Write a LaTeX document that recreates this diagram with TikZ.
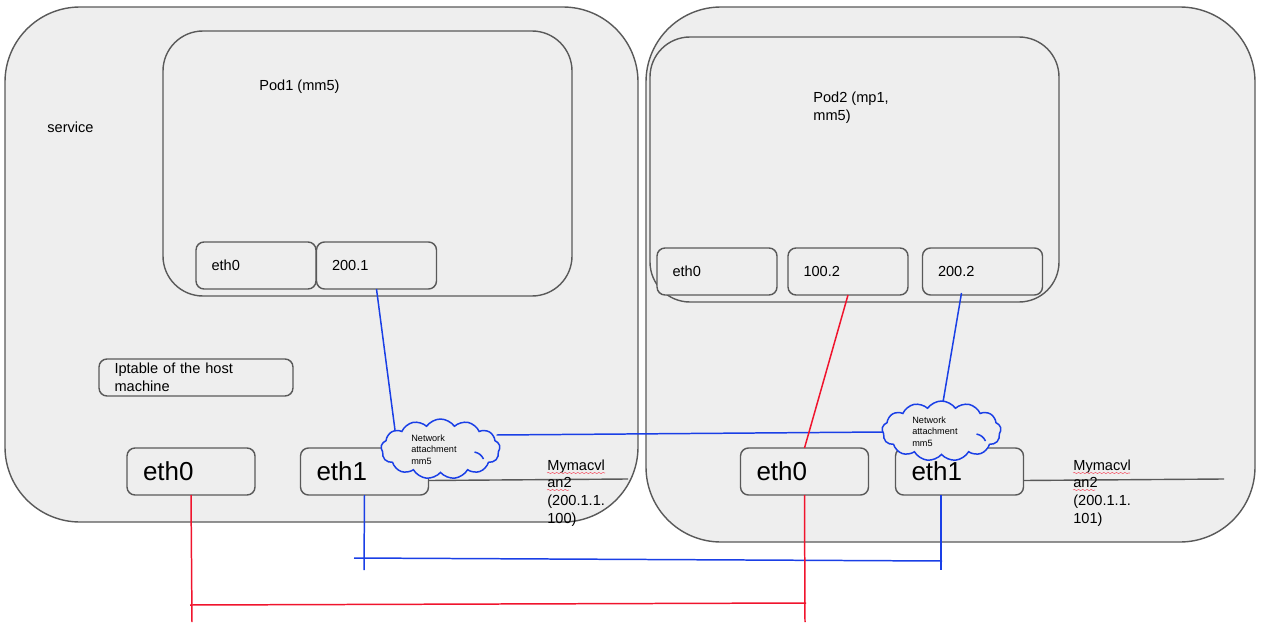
\documentclass[tikz,border=0pt]{standalone}
\usepackage{fontspec}
\setmainfont{Liberation Sans}
\usetikzlibrary{calc,shapes.symbols}
\usetikzlibrary{decorations.pathmorphing}
\definecolor{boxgray}{HTML}{EEEEEE}
\definecolor{edgegray}{HTML}{595959}
\definecolor{netblue}{HTML}{1A3FE6}
\definecolor{netred}{HTML}{F0142D}
\begin{document}
\begin{tikzpicture}
  [x=0.02cm,y=-0.02cm,
   size/.style 2 args={minimum width=#1*0.02cm,minimum height=#2*0.02cm},
   hostbox/.style={rectangle,draw=edgegray,fill=boxgray,line width=.8pt,
                   rounded corners=1.5cm,inner sep=0pt,outer sep=0pt},
   podbox/.style={hostbox,rounded corners=.8cm},
   smallport/.style={rectangle,draw=edgegray,fill=boxgray,line width=.8pt,
                     rounded corners=.16cm,outer sep=0pt,inner ysep=0pt,
                     inner xsep=.31cm,text width=1.78cm,minimum height=.94cm,
                     align=left,font=\fontsize{8.3}{10.1}\selectfont},
   bigport/.style={smallport,inner xsep=.32cm,text width=1.92cm,
                   font=\fontsize{14.8}{17}\selectfont},
   netcloud/.style={cloud,cloud puffs=13,cloud puff arc=110,draw=netblue,fill=boxgray,
                    line width=.85pt,inner sep=0pt,outer sep=0pt},
   caption/.style={anchor=west,inner sep=0pt,align=left,
                   font=\fontsize{8.3}{10.1}\selectfont},
   tiny caption/.style={caption,font=\fontsize{5.2}{6.5}\selectfont},
   blueline/.style={draw=netblue,line width=.85pt},
   redline/.style={draw=netred,line width=.85pt},
   grayline/.style={draw=edgegray,line width=.8pt},
   spellmark/.style={draw=netred!70,line width=.3pt,
                     decorate,decoration={snake,amplitude=.35pt,segment length=2.4pt}}]
  \useasboundingbox (0,0) rectangle (1265,639);

  % hosts and pods
  \node[hostbox,size={633}{515}] (host1) at (321.5,264.5) {};
  \node[hostbox,size={609}{535}] (host2) at (950.5,274.5) {};
  \node[podbox,size={409}{265}] (pod1) at (367.5,163.5) {};
  \node[podbox,size={409}{265}] (pod2) at (854.5,169.5) {};
  \node[caption] (service) at (47,127.5) {service};
  \node[caption] (pod1name) at (259,86.5) {Pod1 (mm5)};
  \node[caption] (pod2name) at (813,107.5) {Pod2 (mp1,\\mm5)};

  % pod interfaces
  \node[smallport] (pod1eth0) at (256,265.5) {\raisebox{-1pt}{eth0}};
  \node[smallport] (pod1net) at (376.5,265.5) {\raisebox{-1pt}{200.1}};
  \node[smallport] (pod2eth0) at (717,271.5) {\raisebox{-1pt}{eth0}};
  \node[smallport] (pod2red) at (848,271.5) {\raisebox{-1pt}{100.2}};
  \node[smallport] (pod2net) at (982.5,271.5) {\raisebox{-1pt}{200.2}};
  \node[smallport,text width=3.26cm,minimum height=.74cm] (iptable) at (196,377.5)
    {\raisebox{-.5pt}{Iptable of the host}\\\raisebox{-.5pt}{machine}};

  % host interfaces
  \node[bigport] (host1eth0) at (191,471.5) {\raisebox{-2pt}{eth0}};
  \node[bigport] (host1eth1) at (364.5,471.5) {\raisebox{-2pt}{eth1}};
  \node[bigport] (host2eth0) at (804.5,471.5) {\raisebox{-2pt}{eth0}};
  \node[bigport] (host2eth1) at (959.5,471.5) {\raisebox{-2pt}{eth1}};

  % free ends
  \coordinate (mac1end) at (628,479);
  \coordinate (mac2end) at (1224,479);
  \coordinate (blue1low) at (364,570);
  \coordinate (blue2low) at (941,570);
  \coordinate (busblue1) at (354,558);
  \coordinate (busblue2) at (942,561);
  \coordinate (red1low) at (192,622);
  \coordinate (red2low) at (805,622);
  \coordinate (busred1) at (190,605);
  \coordinate (busred2) at (806,603);

  \draw[grayline] ($(host1eth1.east)+(0,9)$) -- (mac1end);
  \draw[grayline] ($(host2eth1.east)+(0,9)$) -- (mac2end);

  % network attachments
  \draw[blueline] (pod1net.south) -- (395,430) coordinate (cloud1top);
  \draw[blueline] ($(pod2net.south)+(-21,-2)$) -- (942,408) coordinate (cloud2top);
  \node[netcloud,size={119}{60}] (cloud1) at (440.5,449) {};
  \node[netcloud,size={119}{60}] (cloud2) at (941.5,431) {};
  \draw[netblue,line width=.85pt] ($(cloud1)+(34,3)$) to[bend left=25] ($(cloud1)+(43,10)$);
  \draw[netblue,line width=.85pt] ($(cloud2)+(35,3)$) to[bend left=25] ($(cloud2)+(44,10)$);
  \node[tiny caption] (cloud1name) at (411,449.5) {Network\\attachment\\mm5};
  \node[tiny caption] (cloud2name) at (912,431.5) {Network\\attachment\\mm5};
  \draw[blueline] ($(cloud1.east)+(-3,-14)$) -- ($(cloud2.west)+(1,1)$);

  % physical links
  \draw[redline] (pod2red.south) -- (host2eth0.north);
  \draw[blueline] (host1eth1.south) -- (blue1low);
  \draw[blueline] (host2eth1.south -| blue2low) -- (blue2low);
  \draw[blueline] (busblue1) -- (busblue2);
  \draw[redline] (host1eth0.south) -- (red1low);
  \draw[redline] (host2eth0.south) -- (red2low);
  \draw[redline] (busred1) -- (busred2);

  % macvlan labels
  \node[caption] (mac1name) at (547,493) {Mymacvl\\an2\\(200.1.1.\\100)};
  \node[caption] (mac2name) at (1073,493) {Mymacvl\\an2\\(200.1.1.\\101)};
  \draw[spellmark] (547,473) -- (605,473);
  \draw[spellmark] (547,490) -- (569,490);
  \draw[spellmark] (1073,473) -- (1130,473);
  \draw[spellmark] (1073,490) -- (1095,490);
\end{tikzpicture}
\end{document}
